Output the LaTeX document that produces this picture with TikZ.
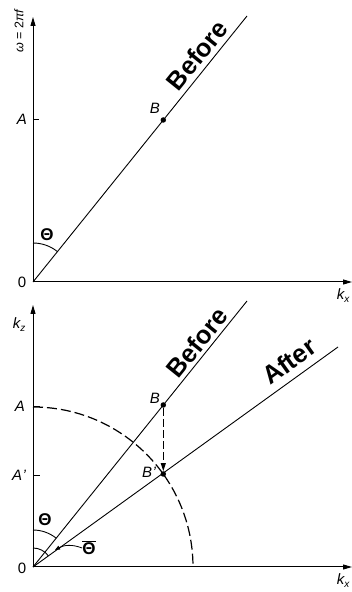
\documentclass[tikz,border=0pt]{standalone}
\usepackage{fontspec}
\setmainfont{Liberation Sans}
\usetikzlibrary{arrows.meta}
\begin{document}
\begin{tikzpicture}[x=1pt,y=1pt,
  axis/.style={line width=1pt, -{Triangle[length=9pt,width=5pt]}},
  ray/.style={line width=0.9pt},
  lbl/.style={font=\itshape\fontsize{15}{15}\selectfont, inner sep=0pt},
  num/.style={font=\fontsize{15}{15}\selectfont, inner sep=0pt},
  big/.style={font=\bfseries\fontsize{25.5}{25.5}\selectfont, inner sep=0pt},
  ang/.style={font=\bfseries\fontsize{17}{17}\selectfont, inner sep=0pt},
  dotnode/.style={circle, fill, inner sep=0pt, minimum size=5.5pt},
  tick/.style={line width=0.9pt},
  dsh/.style={line width=1.2pt, dash pattern=on 10pt off 4pt}]
\useasboundingbox (0,0) rectangle (352,592);
% ---------- top panel ----------
\coordinate (O1) at (33,310);
\coordinate (Y1) at (33,575);
\coordinate (X1) at (352,310);
\coordinate (E1) at (247,576);
\coordinate (TA1) at (39,473);
\node[dotnode] (B1) at (163.3,472) {};
\draw[axis] (O1) -- (Y1);
\draw[axis] (O1) -- (X1);
\draw[ray] (O1) -- (E1);
\draw[tick] (33,473) -- (TA1);
\node[lbl] (A1) at (22,473) {A};
\node[lbl] (Bl1) at (155,484) {B};
\node[num] (Z1) at (22,310) {0};
\node[lbl] (kx1) at (343,296) {k\raisebox{-3pt}{\fontsize{10}{10}\selectfont x}};
\node[font=\fontsize{12.5}{12.5}\selectfont, rotate=90, inner sep=0pt] (om) at (19,561) {\textit{ω} = 2\textit{πf}};
\node[big, rotate=51.2] (bef1) at (197,537) {Before};
\draw[line width=0.9pt] (O1) ++(90:39) arc[start angle=90, end angle=51.2, radius=39];
\node[ang] (th1) at (47,357) {Θ};
% ---------- bottom panel ----------
\coordinate (O2) at (33,25);
\coordinate (Y2) at (33,287);
\coordinate (X2) at (352,25);
\coordinate (E2) at (247,291);
\coordinate (F2) at (338,245);
\coordinate (TA2) at (40,186);
\coordinate (TAp) at (40,117);
\node[dotnode] (B2) at (163.3,187) {};
\node[dotnode] (Bp) at (163.3,118) {};
\draw[axis] (O2) -- (Y2);
\draw[axis] (O2) -- (X2);
\draw[ray] (O2) -- (E2);
\draw[ray] (O2) -- (F2);
\draw[tick] (33,186) -- (TA2);
\draw[tick] (33,117) -- (TAp);
\draw[dsh] (O2) ++(90:160) arc[start angle=90, end angle=0, radius=160];
\draw[line width=1pt, dash pattern=on 8pt off 3pt, -{Triangle[length=8pt,width=5pt]}] (B2) -- (Bp);
\node[lbl] (A2) at (20,186) {A};
\node[lbl] (Ap) at (19,117) {A\kern0.5pt'};
\node[lbl] (Bl2) at (155,194) {B};
\node[lbl] (Blp) at (149,120) {B\kern0.5pt'};
\node[num] (Z2) at (22,24) {0};
\node[lbl] (kz) at (19,267) {k\raisebox{-3pt}{\fontsize{10}{10}\selectfont z}};
\node[lbl] (kx2) at (343,11) {k\raisebox{-3pt}{\fontsize{10}{10}\selectfont x}};
\node[big, rotate=51.2] (bef2) at (197,249.5) {Before};
\node[big, rotate=35.5] (aft) at (289,231) {After};
\draw[line width=0.9pt] (O2) ++(90:37) arc[start angle=90, end angle=51.2, radius=37];
\draw[line width=0.9pt] (O2) ++(90:19) arc[start angle=90, end angle=35.5, radius=19];
\node[ang] (th2) at (45,72) {Θ};
\node[ang] (thb) at (89,44) {$\overline{\hbox{Θ}}$};
\coordinate (tip) at (55,42);
\draw[line width=0.8pt, -{Triangle[length=5pt,width=4pt]}] (thb.west) to[bend right=25] (tip);
\end{tikzpicture}
\end{document}
